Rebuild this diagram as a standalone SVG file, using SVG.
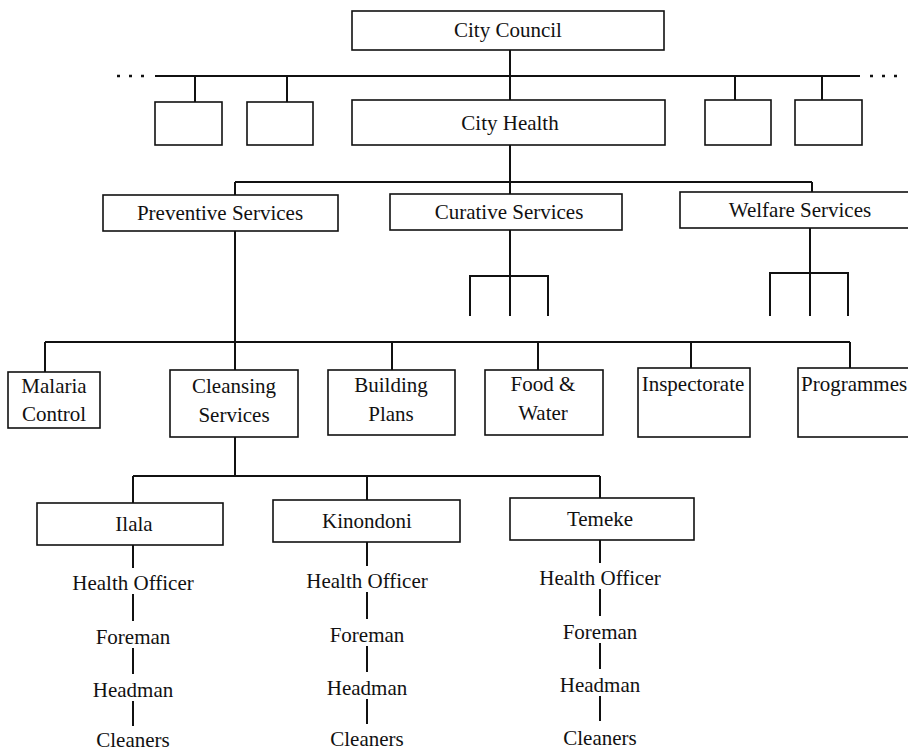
<svg xmlns="http://www.w3.org/2000/svg" width="908" height="753" viewBox="0 0 908 753">
<style>
.box{fill:#fff;stroke:#111;stroke-width:1.6}
.t{font-family:"Liberation Serif","Times New Roman",serif;font-size:21px;fill:#111;text-anchor:middle}
.ln{stroke:#111;stroke-width:2;fill:none}
.dot{stroke:#111;stroke-width:2.5;fill:none;stroke-dasharray:3 9}
</style>
<rect width="908" height="753" fill="#fff"/>
<g id="connectors">
<line class="dot" x1="117" y1="76" x2="152" y2="76"/>
<line class="dot" x1="870" y1="76" x2="906" y2="76"/>
<path class="ln" d="M155 76H860M510 50V100M195 76V102M287 76V102M735 76V100M822 76V100"/>
<path class="ln" d="M510 145V195M235 182H812M235 182V195M812 182V192"/>
<path class="ln" d="M510 230V316M470 316V276H548V316M810 228V316M770 316V273H848V316"/>
<path class="ln" d="M235 230V370M45 342H850M45 342V372M392 342V370M538 342V370M691 342V368M850 342V368"/>
<path class="ln" d="M235 437V476M133 476H600M133 476V503M367 476V500M600 476V498"/>
<path class="ln" d="M133 545V568M133 594V621M133 648V674M133 701V726"/>
<path class="ln" d="M367 542V566M367 592V619M367 646V672M367 699V724"/>
<path class="ln" d="M600 540V563M600 589V616M600 643V669M600 696V721"/>
</g>
<g id="city-council"><rect class="box" x="352" y="11" width="312" height="39"/><text class="t" x="508" y="37">City Council</text></g>
<g id="blank1"><rect class="box" x="155" y="102" width="67" height="43"/></g>
<g id="blank2"><rect class="box" x="247" y="102" width="66" height="43"/></g>
<g id="city-health"><rect class="box" x="352" y="100" width="313" height="45"/><text class="t" x="510" y="130">City Health</text></g>
<g id="blank3"><rect class="box" x="705" y="100" width="66" height="45"/></g>
<g id="blank4"><rect class="box" x="795" y="100" width="67" height="45"/></g>
<g id="preventive"><rect class="box" x="103" y="195" width="235" height="36"/><text class="t" x="220" y="220">Preventive Services</text></g>
<g id="curative"><rect class="box" x="390" y="194" width="232" height="36"/><text class="t" x="509" y="219">Curative Services</text></g>
<g id="welfare"><rect class="box" x="680" y="192" width="240" height="36"/><text class="t" x="800" y="217">Welfare Services</text></g>
<g id="malaria"><rect class="box" x="8" y="372" width="92" height="56"/><text class="t" x="54" y="393">Malaria</text><text class="t" x="54" y="421">Control</text></g>
<g id="cleansing"><rect class="box" x="170" y="370" width="128" height="67"/><text class="t" x="234" y="393">Cleansing</text><text class="t" x="234" y="422">Services</text></g>
<g id="building"><rect class="box" x="328" y="370" width="127" height="65"/><text class="t" x="391" y="392">Building</text><text class="t" x="391" y="421">Plans</text></g>
<g id="food"><rect class="box" x="485" y="370" width="118" height="65"/><text class="t" x="543" y="391">Food &amp;</text><text class="t" x="543" y="420">Water</text></g>
<g id="inspectorate"><rect class="box" x="638" y="368" width="112" height="69"/><text class="t" x="693" y="391">Inspectorate</text></g>
<g id="programmes"><rect class="box" x="798" y="368" width="120" height="69"/><text class="t" x="801" y="391" style="text-anchor:start">Programmes</text></g>
<g id="ilala"><rect class="box" x="37" y="503" width="186" height="42"/><text class="t" x="134" y="531">Ilala</text></g>
<g id="kinondoni"><rect class="box" x="273" y="500" width="187" height="42"/><text class="t" x="367" y="528">Kinondoni</text></g>
<g id="temeke"><rect class="box" x="510" y="498" width="184" height="42"/><text class="t" x="600" y="526">Temeke</text></g>
<g id="ilala-staff"><text class="t" x="133" y="590">Health Officer</text><text class="t" x="133" y="644">Foreman</text><text class="t" x="133" y="697">Headman</text><text class="t" x="133" y="747">Cleaners</text></g>
<g id="kinondoni-staff"><text class="t" x="367" y="588">Health Officer</text><text class="t" x="367" y="642">Foreman</text><text class="t" x="367" y="695">Headman</text><text class="t" x="367" y="746">Cleaners</text></g>
<g id="temeke-staff"><text class="t" x="600" y="585">Health Officer</text><text class="t" x="600" y="639">Foreman</text><text class="t" x="600" y="692">Headman</text><text class="t" x="600" y="745">Cleaners</text></g>
</svg>
